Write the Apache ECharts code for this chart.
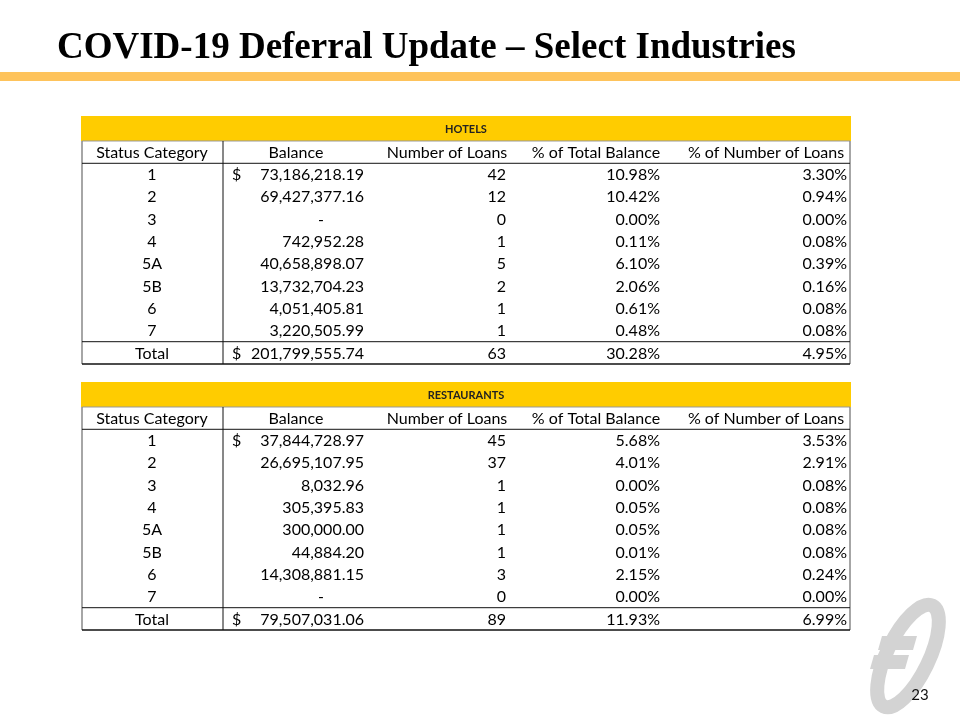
<!DOCTYPE html>
<html>
<head>
<meta charset="utf-8">
<script src="https://cdn.jsdelivr.net/npm/echarts@6/dist/echarts.min.js"></script>
<style>
html,body{margin:0;padding:0;background:#fff;}
#chart{width:960px;height:720px;}
</style>
</head>
<body>
<div id="chart"></div>
<script>
// ---------- data ----------
const pageTitle = 'COVID-19 Deferral Update – Select Industries';
const tableNames = ['HOTELS', 'RESTAURANTS'];
const columnHeaders = ['Status Category', 'Balance', 'Number of Loans', '% of Total Balance', '% of Number of Loans'];
const statusCategories = ['1', '2', '3', '4', '5A', '5B', '6', '7', 'Total'];

const hotelBalance = [73186218.19, 69427377.16, 0, 742952.28, 40658898.07, 13732704.23, 4051405.81, 3220505.99, 201799555.74];
const hotelLoans = [42, 12, 0, 1, 5, 2, 1, 1, 63];
const hotelPctBalance = [10.98, 10.42, 0.00, 0.11, 6.10, 2.06, 0.61, 0.48, 30.28];
const hotelPctLoans = [3.30, 0.94, 0.00, 0.08, 0.39, 0.16, 0.08, 0.08, 4.95];

const restBalance = [37844728.97, 26695107.95, 8032.96, 305395.83, 300000.00, 44884.20, 14308881.15, 0, 79507031.06];
const restLoans = [45, 37, 1, 1, 1, 1, 3, 0, 89];
const restPctBalance = [5.68, 4.01, 0.00, 0.05, 0.05, 0.01, 2.15, 0.00, 11.93];
const restPctLoans = [3.53, 2.91, 0.08, 0.08, 0.08, 0.08, 0.24, 0.00, 6.99];

const pageNumber = '23';

// ---------- layout (styling, not data) ----------
const FONT = 'Lato, "Noto Sans", sans-serif';
const TABLE_LEFT = 82, TABLE_W = 768;
const gridTops = [141, 407];
const GRID_H = 223;
// x anchors in table units (0..768)
const headerCenters = [70, 214, 365, 514, 684];
const valueAnchor = [70, 282, 424, 578, 765]; // col0 center, others right edge
const dollarLeft = 150;
const dashRight = 242;
const colDivider = 141;

function fmtMoney(v) {
  return v.toLocaleString('en-US', {minimumFractionDigits: 2, maximumFractionDigits: 2});
}
function fmtPct(v) { return v.toFixed(2) + '%'; }

const rowNames = ['hdr'].concat(statusCategories);

function buildCells(bal, loans, pb, pl) {
  const cells = [];
  columnHeaders.forEach((h, c) => cells.push({value: [headerCenters[c], 0, c, 'header'], text: h}));
  statusCategories.forEach((s, i) => {
    const r = i + 1;
    cells.push({value: [valueAnchor[0], r, 0, 'center'], text: s});
    if (bal[i] === 0) {
      cells.push({value: [dashRight, r, 1, 'right'], text: '-'});
    } else {
      cells.push({value: [valueAnchor[1], r, 1, 'right'], text: fmtMoney(bal[i])});
    }
    if (i === 0 || i === statusCategories.length - 1) {
      cells.push({value: [dollarLeft, r, 1, 'left'], text: '$'});
    }
    cells.push({value: [valueAnchor[2], r, 2, 'right'], text: String(loans[i])});
    cells.push({value: [valueAnchor[3], r, 3, 'right'], text: fmtPct(pb[i])});
    cells.push({value: [valueAnchor[4], r, 4, 'right'], text: fmtPct(pl[i])});
  });
  return cells;
}

const tables = [
  buildCells(hotelBalance, hotelLoans, hotelPctBalance, hotelPctLoans),
  buildCells(restBalance, restLoans, restPctBalance, restPctLoans)
];

function cellRender(params, api) {
  const x = api.value(0), r = api.value(1);
  const align = api.value(3);
  const pt = api.coord([x, r]);
  const item = tables[params.seriesIndex >> 1][params.dataIndex];
  return {
    type: 'text',
    x: pt[0], y: pt[1] + 0.5,
    style: {
      text: item.text,
      fill: '#000',
      font: '16px ' + FONT,
      align: align === 'header' ? 'center' : align,
      verticalAlign: 'middle'
    }
  };
}

function frameRender(tIdx) {
  return function (params, api) {
    const nRows = rowNames.length;
    const tl = api.coord([0, 0]);
    const br = api.coord([TABLE_W, nRows - 1]);
    const rowH = api.size([0, 1])[1];
    const left = tl[0], right = br[0];
    const top = tl[1] - rowH / 2;
    const bottom = br[1] + rowH / 2;
    const divX = api.coord([colDivider, 0])[0];
    const hdrBottom = top + rowH;
    const totTop = bottom - rowH;
    const ln = (x1, y1, x2, y2, c, w) => ({
      type: 'line', shape: {x1, y1, x2, y2}, style: {stroke: c, lineWidth: w}
    });
    return {
      type: 'group',
      children: [
        {type: 'rect', shape: {x: left - 1, y: top - 25, width: right - left + 2, height: 25}, style: {fill: '#FFCC00'}},
        {type: 'text', x: (left + right) / 2, y: top - 12, style: {text: tableNames[tIdx], fill: '#222', font: 'bold 11px ' + FONT, align: 'center', verticalAlign: 'middle'}},
        ln(left, top, right, top, '#999', 1),
        ln(left, top, left, bottom, '#888', 1.5),
        ln(right, top, right, bottom, '#888', 1.5),
        ln(left, hdrBottom, right, hdrBottom, '#111', 1),
        ln(left, totTop, right, totTop, '#111', 1),
        ln(left, bottom, right, bottom, '#111', 1.5),
        ln(divX, top, divX, bottom, '#111', 1)
      ]
    };
  };
}

const grids = gridTops.map(t => ({left: TABLE_LEFT, top: t, width: TABLE_W, height: GRID_H}));
const xAxes = gridTops.map((t, i) => ({type: 'value', gridIndex: i, min: 0, max: TABLE_W, show: false}));
const yAxes = gridTops.map((t, i) => ({type: 'category', gridIndex: i, data: rowNames, inverse: true, show: false}));

const series = [];
tables.forEach((cells, i) => {
  series.push({
    type: 'custom', xAxisIndex: i, yAxisIndex: i, silent: true,
    renderItem: cellRender, data: cells.map(c => c.value), z: 3
  });
  series.push({
    type: 'custom', xAxisIndex: i, yAxisIndex: i, silent: true,
    renderItem: frameRender(i), data: [[0, 0]], z: 2
  });
});

const chart = echarts.init(document.getElementById('chart'), null, {renderer: 'canvas'});
chart.setOption({
  animation: false,
  backgroundColor: '#fff',
  grid: grids,
  xAxis: xAxes,
  yAxis: yAxes,
  series: series,
  graphic: [
    {type: 'text', left: 57, top: 30, style: {text: pageTitle, fill: '#000', font: 'bold 37px "Liberation Serif", serif'}},
    {type: 'rect', shape: {x: 0, y: 72, width: 960, height: 9}, style: {fill: '#FEC35B'}},
    {type: 'ellipse', shape: {cx: 0, cy: 0, rx: 21, ry: 56}, x: 908, y: 656, rotation: -0.45, style: {fill: 'none', stroke: '#d3d3d3', lineWidth: 14}, z: 0},
    {type: 'polygon', shape: {points: [[882, 636], [917, 636], [913, 650], [878, 650]]}, style: {fill: '#d3d3d3'}, z: 0},
    {type: 'polygon', shape: {points: [[874, 655], [909, 655], [905, 669], [870, 669]]}, style: {fill: '#d3d3d3'}, z: 0},
    {type: 'text', x: 920, y: 695, style: {text: pageNumber, fill: '#111', font: '15px ' + FONT, align: 'center', verticalAlign: 'middle'}, z: 10}
  ]
});
</script>
</body>
</html>
